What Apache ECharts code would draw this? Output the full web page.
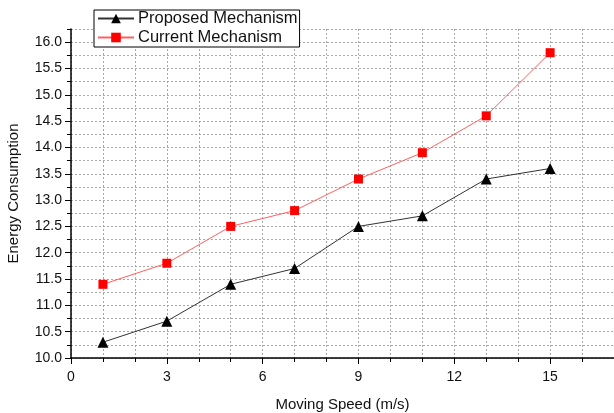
<!DOCTYPE html>
<html><head><meta charset="utf-8">
<script src="https://cdn.jsdelivr.net/npm/echarts@6/dist/echarts.min.js"></script>
<style>html,body{margin:0;padding:0;background:#fff}#c{width:614px;height:413px}</style>
</head><body><div id="c"></div>
<script>
const speeds = [1, 3, 5, 7, 9, 11, 13, 15];
const proposed = [10.3, 10.7, 11.4, 11.7, 12.5, 12.7, 13.4, 13.6];
const current = [11.4, 11.8, 12.5, 12.8, 13.4, 13.9, 14.6, 15.8];
const seriesNames = ['Proposed Mechanism', 'Current Mechanism'];
const xTitle = 'Moving Speed (m/s)';
const yTitle = 'Energy Consumption';

const font = 'Arial, "Liberation Sans", sans-serif';
const grid = { left: 71, top: 29, right: 0, bottom: 55, containLabel: false, outerBoundsMode: 'none' };
const dash = { color: '#a8a8a8', width: 1, type: [2, 2] };
const chart = echarts.init(document.getElementById('c'), null, { renderer: 'canvas' });
chart.setOption({
  animation: false,
  backgroundColor: '#fff',
  grid: grid,
  legend: {
    left: 94, top: 10, orient: 'vertical',
    backgroundColor: '#fff', borderColor: '#000', borderWidth: 1,
    padding: [0, 2, 1, 3], itemGap: 2, itemWidth: 36, itemHeight: 12,
    textStyle: { fontFamily: font, fontSize: 16.5, color: '#111', padding: [0, 0, 0, -1] },
    data: seriesNames
  },
  xAxis: [
    { type: 'value', min: 0, max: 17, interval: 1,
      axisLine: { lineStyle: { color: '#000', width: 1.5 } },
      axisTick: { length: 4, lineStyle: { color: '#000' } },
      axisLabel: { show: false },
      splitLine: { show: true, lineStyle: dash } },
    { type: 'value', position: 'bottom', min: 0, max: 17, interval: 3,
      name: xTitle, nameLocation: 'middle', nameGap: 39,
      nameTextStyle: { fontFamily: font, fontSize: 15, color: '#111' },
      axisLine: { show: false },
      axisTick: { length: 6, lineStyle: { color: '#000' } },
      axisLabel: { fontFamily: font, fontSize: 14, color: '#111', margin: 12, showMaxLabel: false },
      splitLine: { show: false } }
  ],
  yAxis: [
    { type: 'value', min: 10, max: 16.25, interval: 0.25,
      axisLine: { show: true, lineStyle: { color: '#000', width: 1.5 } },
      axisTick: { show: true, length: 4, lineStyle: { color: '#000' } },
      axisLabel: { show: false },
      splitLine: { show: true, lineStyle: dash } },
    { type: 'value', position: 'left', min: 10, max: 16.25, interval: 0.5,
      name: yTitle, nameLocation: 'middle', nameGap: 50,
      nameTextStyle: { fontFamily: font, fontSize: 15, color: '#111' },
      axisLine: { show: false },
      axisTick: { show: true, length: 6, lineStyle: { color: '#000' } },
      axisLabel: { fontFamily: font, fontSize: 14, color: '#111', margin: 9, showMaxLabel: false,
        formatter: v => v.toFixed(1) },
      splitLine: { show: false } }
  ],
  series: [
    { name: seriesNames[0], type: 'line', xAxisIndex: 0, yAxisIndex: 0,
      data: speeds.map((s, i) => [s, proposed[i]]),
      symbol: 'triangle', symbolSize: 11,
      itemStyle: { color: '#000' }, lineStyle: { color: '#333', width: 1 } },
    { name: seriesNames[1], type: 'line', xAxisIndex: 0, yAxisIndex: 0,
      data: speeds.map((s, i) => [s, current[i]]),
      symbol: 'rect', symbolSize: 9,
      itemStyle: { color: '#f00' }, lineStyle: { color: '#ff6060', width: 1 } }
  ]
});
</script></body></html>
